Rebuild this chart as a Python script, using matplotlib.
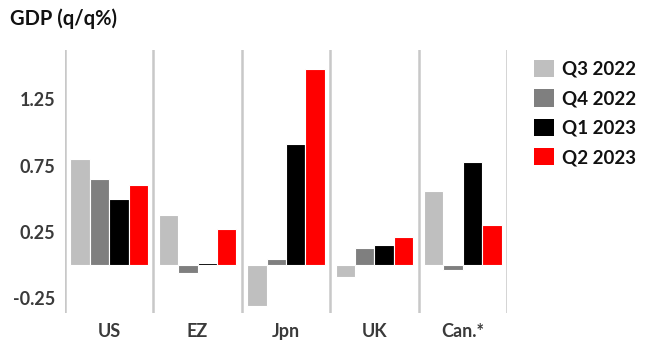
import matplotlib
matplotlib.use("Agg")
import matplotlib.pyplot as plt
from matplotlib.patches import Patch
import numpy as np

plt.rcParams['font.family'] = ['Lato', 'DejaVu Sans']

regions = ["US", "EZ", "Jpn", "UK", "Can.*"]
quarters = ["Q3 2022", "Q4 2022", "Q1 2023", "Q2 2023"]
q3_2022 = [0.80, 0.38, -0.31, -0.09, 0.56]
q4_2022 = [0.65, -0.06, 0.05, 0.13, -0.04]
q1_2023 = [0.50, 0.02, 0.91, 0.15, 0.78]
q2_2023 = [0.60, 0.27, 1.48, 0.21, 0.30]
colors = ["#bfbfbf", "#7f7f7f", "#000000", "#ff0000"]
yticks = [-0.25, 0.25, 0.75, 1.25]

series = [q3_2022, q4_2022, q1_2023, q2_2023]

fig = plt.figure(figsize=(6.45, 3.45), dpi=100)
ax = fig.add_axes([65 / 645, 1 - 313 / 345, (507 - 65) / 645, (313 - 50) / 345])

x = np.arange(len(regions))
width = 0.22
for i, (vals, c) in enumerate(zip(series, colors)):
    ax.bar(x + (i - 1.5) * width, vals, width, color=c, edgecolor="white",
           linewidth=0.8, zorder=3)

ax.set_xlim(-0.5, len(regions) - 0.5)
ax.set_ylim(-0.36, 1.62)
ax.set_yticks(yticks)
ax.set_yticklabels([f"{t:.2f}" for t in yticks])
ax.set_xticks(x)
ax.set_xticklabels(regions)

for s in ax.spines.values():
    s.set_visible(False)
for b in np.arange(len(regions) + 1) - 0.5:
    ax.axvline(b, color="#c8c8c8", linewidth=1.8, zorder=1)

ax.tick_params(axis="both", length=0, labelsize=13, colors="#3a3a3a")
ax.tick_params(axis="y", pad=7)
ax.tick_params(axis="x", pad=7)
for lbl in ax.get_xticklabels() + ax.get_yticklabels():
    lbl.set_fontweight("bold")

fig.text(10 / 645, 1 - 19 / 345, "GDP (q/q%)", fontsize=14.5, fontweight="bold",
         color="#111111", va="center", ha="left")

handles = [Patch(facecolor=c, edgecolor="none") for c in colors]
leg = fig.legend(handles, quarters, loc="upper left",
                 bbox_to_anchor=(517 / 645, 1 - 43 / 345),
                 frameon=False, handlelength=1.05, handleheight=1.05,
                 handletextpad=0.45, labelspacing=0.6,
                 prop={"weight": "bold", "size": 13.5})
for t in leg.get_texts():
    t.set_color("#111111")

fig.savefig("out.png", dpi=100)
